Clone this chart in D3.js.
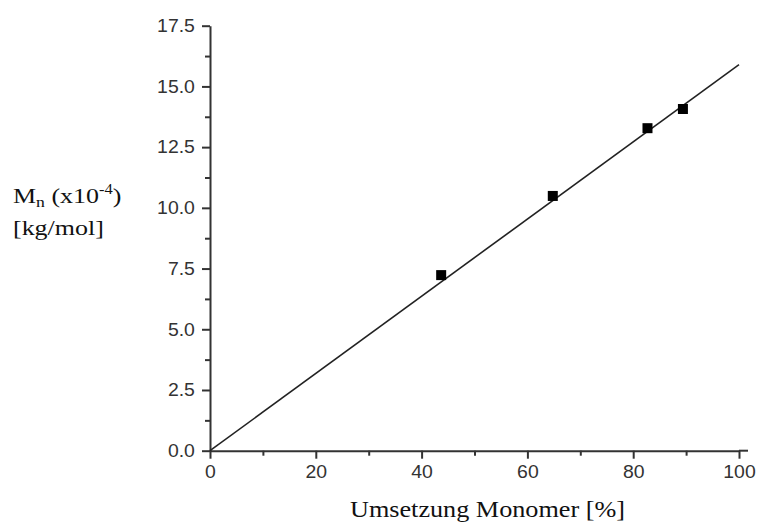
<!DOCTYPE html>
<html lang="en">
<head>
    <meta charset="UTF-8">
    <title>Mn vs Umsetzung Monomer</title>
    <style>
        body {
            margin: 0;
            padding: 0;
            background: #ffffff;
        }
        .tick text {
            font-family: "Liberation Sans", Arial, sans-serif;
            font-size: 18px;
            fill: #333;
        }
        .label {
            font-family: "Liberation Serif", "Times New Roman", serif;
            fill: #111;
        }
    </style>
</head>
<body>
    <div id="chart"></div>
    <script src="https://d3js.org/d3.v7.min.js"></script>
    <script>
        // Data
        const conversion = [43.7, 64.8, 82.7, 89.4];     // Umsetzung Monomer [%]
        const mn = [7.23, 10.49, 13.28, 14.07];          // Mn (x10^-4) [kg/mol]
        const fitX = [0, 100];
        const fitY = [0, 15.9];

        const xMajor = [0, 20, 40, 60, 80, 100];
        const xMinor = [10, 30, 50, 70, 90];
        const yMajor = [0, 2.5, 5, 7.5, 10, 12.5, 15, 17.5];
        const yMinor = [1.25, 3.75, 6.25, 8.75, 11.25, 13.75, 16.25];

        const width = 757;
        const height = 524;
        const margin = { top: 25.7, right: 18, bottom: 73.3, left: 210 };

        const svg = d3.select('#chart')
            .append('svg')
            .attr('width', width)
            .attr('height', height);

        const x = d3.scaleLinear()
            .domain([0, 100])
            .range([margin.left, width - margin.right]);

        const y = d3.scaleLinear()
            .domain([0, 17.5])
            .range([height - margin.bottom, margin.top]);

        const axisColor = '#333';

        // X axis
        const xAxisG = svg.append('g')
            .attr('transform', `translate(0,${y(0)})`)
            .call(d3.axisBottom(x)
                .tickValues(xMajor)
                .tickFormat(d3.format('d'))
                .tickSize(8)
                .tickSizeOuter(0)
                .tickPadding(7));

        svg.append('g')
            .attr('transform', `translate(0,${y(0)})`)
            .call(d3.axisBottom(x)
                .tickValues(xMinor)
                .tickFormat('')
                .tickSize(5)
                .tickSizeOuter(0))
            .call(g => g.select('.domain').remove());

        // axis line runs a bit past 100
        xAxisG.append('line')
            .attr('x1', x(100))
            .attr('x2', x(100) + 9)
            .attr('stroke', axisColor)
            .attr('stroke-width', 2);

        // Y axis
        svg.append('g')
            .attr('transform', `translate(${x(0)},0)`)
            .call(d3.axisLeft(y)
                .tickValues(yMajor)
                .tickFormat(d3.format('.1f'))
                .tickSize(8)
                .tickSizeOuter(0)
                .tickPadding(6));

        svg.append('g')
            .attr('transform', `translate(${x(0)},0)`)
            .call(d3.axisLeft(y)
                .tickValues(yMinor)
                .tickFormat('')
                .tickSize(5)
                .tickSizeOuter(0))
            .call(g => g.select('.domain').remove());

        svg.selectAll('.domain, .tick line')
            .attr('stroke', axisColor)
            .attr('stroke-width', 2);

        // slightly wide tick labels, like the original
        svg.selectAll('.tick text')
            .attr('transform', 'scale(1.08,1)');

        // Fit line
        const line = d3.line()
            .x((d, i) => x(fitX[i]))
            .y(d => y(d));

        svg.append('path')
            .datum(fitY)
            .attr('fill', 'none')
            .attr('stroke', '#222')
            .attr('stroke-width', 1.6)
            .attr('d', line);

        // Points
        const size = 10;
        svg.selectAll('.pt')
            .data(conversion)
            .join('rect')
            .attr('class', 'pt')
            .attr('x', d => x(d) - size / 2)
            .attr('y', (d, i) => y(mn[i]) - size / 2)
            .attr('width', size)
            .attr('height', size)
            .attr('fill', '#000');

        // X label
        svg.append('text')
            .attr('class', 'label')
            .attr('x', 350)
            .attr('y', 517)
            .attr('font-size', 24)
            .attr('textLength', 275)
            .attr('lengthAdjust', 'spacingAndGlyphs')
            .text('Umsetzung Monomer [%]');

        // Y label (two lines, left of the axis)
        const yLab = svg.append('g')
            .attr('transform', 'translate(13,0) scale(1.18,1)');

        const l1 = yLab.append('text')
            .attr('class', 'label')
            .attr('x', 0)
            .attr('y', 203)
            .attr('font-size', 22);
        l1.append('tspan').text('M');
        l1.append('tspan').attr('font-size', 15).attr('dy', 4).text('n');
        l1.append('tspan').attr('dy', -4).text(' (x10');
        l1.append('tspan').attr('font-size', 14).attr('dy', -9).text('-4');
        l1.append('tspan').attr('dy', 9).text(')');

        yLab.append('text')
            .attr('class', 'label')
            .attr('x', 0)
            .attr('y', 235)
            .attr('font-size', 22)
            .text('[kg/mol]');
    </script>
</body>
</html>
